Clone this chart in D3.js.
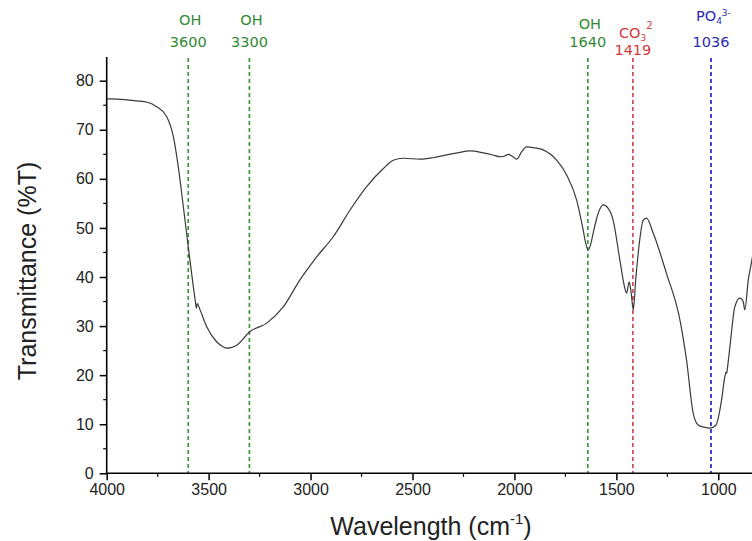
<!DOCTYPE html>
<html>
<head>
<meta charset="utf-8">
<script src="https://cdn.jsdelivr.net/npm/d3@7"></script>
<style>
body { margin:0; background:#fff; }
text { font-family: "Liberation Sans", Arial, sans-serif; }
text.band { font-family: "DejaVu Sans", Verdana, sans-serif; }
</style>
</head>
<body>
<script>
const width = 752;
const height = 541;

// spectrum: wavenumber (cm-1) and transmittance (%T)
const wavenumbers = [4000, 3992, 3900, 3853, 3800, 3755, 3706, 3673, 3649, 3624, 3600, 3575, 3565, 3560, 3556, 3542,
  3510, 3461, 3430, 3411, 3390, 3362, 3297, 3215, 3134, 3052, 2970, 2889, 2807, 2725, 2643, 2594, 2545, 2463,
  2400, 2333, 2280, 2218, 2153, 2100, 2071, 2050, 2030, 2010, 1989, 1965, 1940, 1900, 1859, 1793, 1744, 1695,
  1663, 1650, 1638, 1625, 1614, 1589, 1565, 1540, 1516, 1483, 1460, 1450, 1437, 1428, 1417, 1405, 1393, 1368,
  1352, 1319, 1254, 1188, 1156, 1123, 1098, 1070, 1041, 1012, 984, 968, 962, 959, 955, 943, 919, 894, 878, 870,
  853, 835, 820];
const transmittance = [76.3, 76.3, 76.1, 75.9, 75.6, 74.7, 72.7, 68.6, 62.5, 54.3, 46.2, 38.0, 35.0, 33.6, 34.6, 33.3,
  29.9, 26.8, 25.8, 25.5, 25.6, 26.1, 28.9, 30.6, 33.9, 39.4, 44.1, 48.2, 53.6, 58.4, 62.1, 63.8, 64.2, 64.0,
  64.3, 64.9, 65.3, 65.7, 65.3, 64.8, 64.5, 64.6, 65.0, 64.6, 64.0, 65.5, 66.5, 66.3, 65.9, 63.8, 60.8, 55.7,
  49.6, 46.8, 45.5, 46.8, 48.9, 53.0, 54.7, 54.0, 51.6, 43.5, 38.0, 36.7, 39.0, 37.0, 33.3, 39.5, 44.8, 51.6,
  52.0, 48.9, 40.7, 31.2, 23.1, 12.2, 9.8, 9.4, 9.2, 9.8, 14.9, 19.7, 20.6, 20.4, 21.5, 25.8, 33.9, 35.7, 35.0, 33.3,
  39.4, 43.5, 47.5];

// marked bands
const bandPositions = [3600, 3300, 1640, 1419, 1036];
const bandGroups = ["OH", "OH", "OH", "CO3", "PO4"];

const xTicks = [4000, 3500, 3000, 2500, 2000, 1500, 1000];
const yTicks = [0, 10, 20, 30, 40, 50, 60, 70, 80];

const bandColor = {OH:"#318a31", CO3:"#d43a3a", PO4:"#2b2bb0"};
const lineColor = {OH:"#3a9a3a", CO3:"#d64a4a", PO4:"#2424c8"};

const svg = d3.select("body").append("svg")
  .attr("width", width)
  .attr("height", height);

svg.append("rect").attr("width", width).attr("height", height).attr("fill", "#fff");

// 4000 sits on the y axis, 1000 at 718
const x = d3.scaleLinear().domain([4000, 1000]).range([106.7, 718.3]);
const y = d3.scaleLinear().domain([0, 80]).range([473.3, 80.7]);

svg.append("defs").append("clipPath").attr("id", "plot-clip")
  .append("rect")
  .attr("x", 106.7).attr("y", 0)
  .attr("width", width - 106.7).attr("height", 474);

// dashed band markers
svg.append("g").selectAll("line")
  .data(bandPositions)
  .join("line")
  .attr("x1", d => x(d))
  .attr("x2", d => x(d))
  .attr("y1", 58)
  .attr("y2", y(0))
  .attr("stroke", (d, i) => lineColor[bandGroups[i]])
  .attr("stroke-width", 1.7)
  .attr("stroke-dasharray", "4,3");

// spectrum
const points = wavenumbers.map((w, i) => [w, transmittance[i]]);
const line = d3.line()
  .x(d => x(d[0]))
  .y(d => y(d[1]))
  .curve(d3.curveMonotoneX);

svg.append("path")
  .datum(points.slice().reverse())
  .attr("clip-path", "url(#plot-clip)")
  .attr("d", line)
  .attr("fill", "none")
  .attr("stroke", "#3a3a3a")
  .attr("stroke-width", 1.2);

// axes
const xAxis = svg.append("g")
  .attr("transform", `translate(0,${y(0)})`)
  .call(d3.axisBottom(x).tickValues(xTicks).tickSize(7).tickPadding(3).tickFormat(d3.format("d")));
xAxis.select(".domain").attr("d", `M106.7,0H${width}`).attr("stroke-width", 1.6);
xAxis.selectAll(".tick line").attr("stroke-width", 1.5);
xAxis.selectAll("text").attr("font-size", 16).attr("fill", "#222");

svg.append("g")
  .attr("transform", `translate(0,${y(0)})`)
  .selectAll("line")
  .data(xTicks.slice(0, -1).map(d => d - 250))
  .join("line")
  .attr("x1", d => x(d)).attr("x2", d => x(d))
  .attr("y1", 0).attr("y2", 3.5)
  .attr("stroke", "#000").attr("stroke-width", 1.2);

const yAxis = svg.append("g")
  .attr("transform", "translate(106.7,0)")
  .call(d3.axisLeft(y).tickValues(yTicks).tickSize(7).tickPadding(6));
yAxis.select(".domain").attr("d", `M0,${y(0)}V57`).attr("stroke-width", 1.6);
yAxis.selectAll(".tick line").attr("stroke-width", 1.5);
yAxis.selectAll("text").attr("font-size", 16).attr("fill", "#222");

svg.append("g")
  .attr("transform", "translate(106.7,0)")
  .selectAll("line")
  .data(yTicks.map(d => d + 5).filter(d => d < 85))
  .join("line")
  .attr("x1", -3.5).attr("x2", 0)
  .attr("y1", d => y(d)).attr("y2", d => y(d))
  .attr("stroke", "#000").attr("stroke-width", 1.2);

// axis titles
const xTitle = svg.append("text")
  .attr("x", 431)
  .attr("y", 535)
  .attr("text-anchor", "middle")
  .attr("font-size", 25)
  .attr("fill", "#222");
xTitle.append("tspan").text("Wavelength (cm");
xTitle.append("tspan").attr("dy", -11).attr("font-size", 15).text("-1");
xTitle.append("tspan").attr("dy", 11).text(")");

svg.append("text")
  .attr("transform", "translate(36,271) rotate(-90)")
  .attr("text-anchor", "middle")
  .attr("font-size", 25)
  .attr("fill", "#222")
  .text("Transmittance (%T)");

// band labels
const labels = svg.append("g").attr("font-size", 14.5);
bandPositions.forEach((b, i) => {
  const g = bandGroups[i];
  const cx = x(b);
  const col = bandColor[g];
  if (g === "OH") {
    labels.append("text").attr("class", "band").attr("x", cx + 2).attr("y", b === 1640 ? 29 : 25)
      .attr("text-anchor", "middle").attr("fill", col).text("OH");
    labels.append("text").attr("class", "band").attr("x", cx).attr("y", 47)
      .attr("text-anchor", "middle").attr("fill", col).text(b);
  } else if (g === "CO3") {
    const t = labels.append("text").attr("class", "band").attr("x", cx - 14).attr("y", 38).attr("fill", col);
    t.append("tspan").text("CO");
    t.append("tspan").attr("dy", 3).attr("font-size", 9).text("3");
    t.append("tspan").attr("dy", -12).attr("font-size", 10).text("2");
    labels.append("text").attr("class", "band").attr("x", cx).attr("y", 55)
      .attr("text-anchor", "middle").attr("fill", col).text(b);
  } else {
    const t = labels.append("text").attr("class", "band").attr("x", cx - 15).attr("y", 21).attr("fill", col);
    t.append("tspan").text("PO");
    t.append("tspan").attr("dy", 3).attr("font-size", 9).text("4");
    t.append("tspan").attr("dy", -8).attr("font-size", 9).text("3-");
    labels.append("text").attr("class", "band").attr("x", cx).attr("y", 47)
      .attr("text-anchor", "middle").attr("fill", col).text(b);
  }
});
</script>
</body>
</html>
